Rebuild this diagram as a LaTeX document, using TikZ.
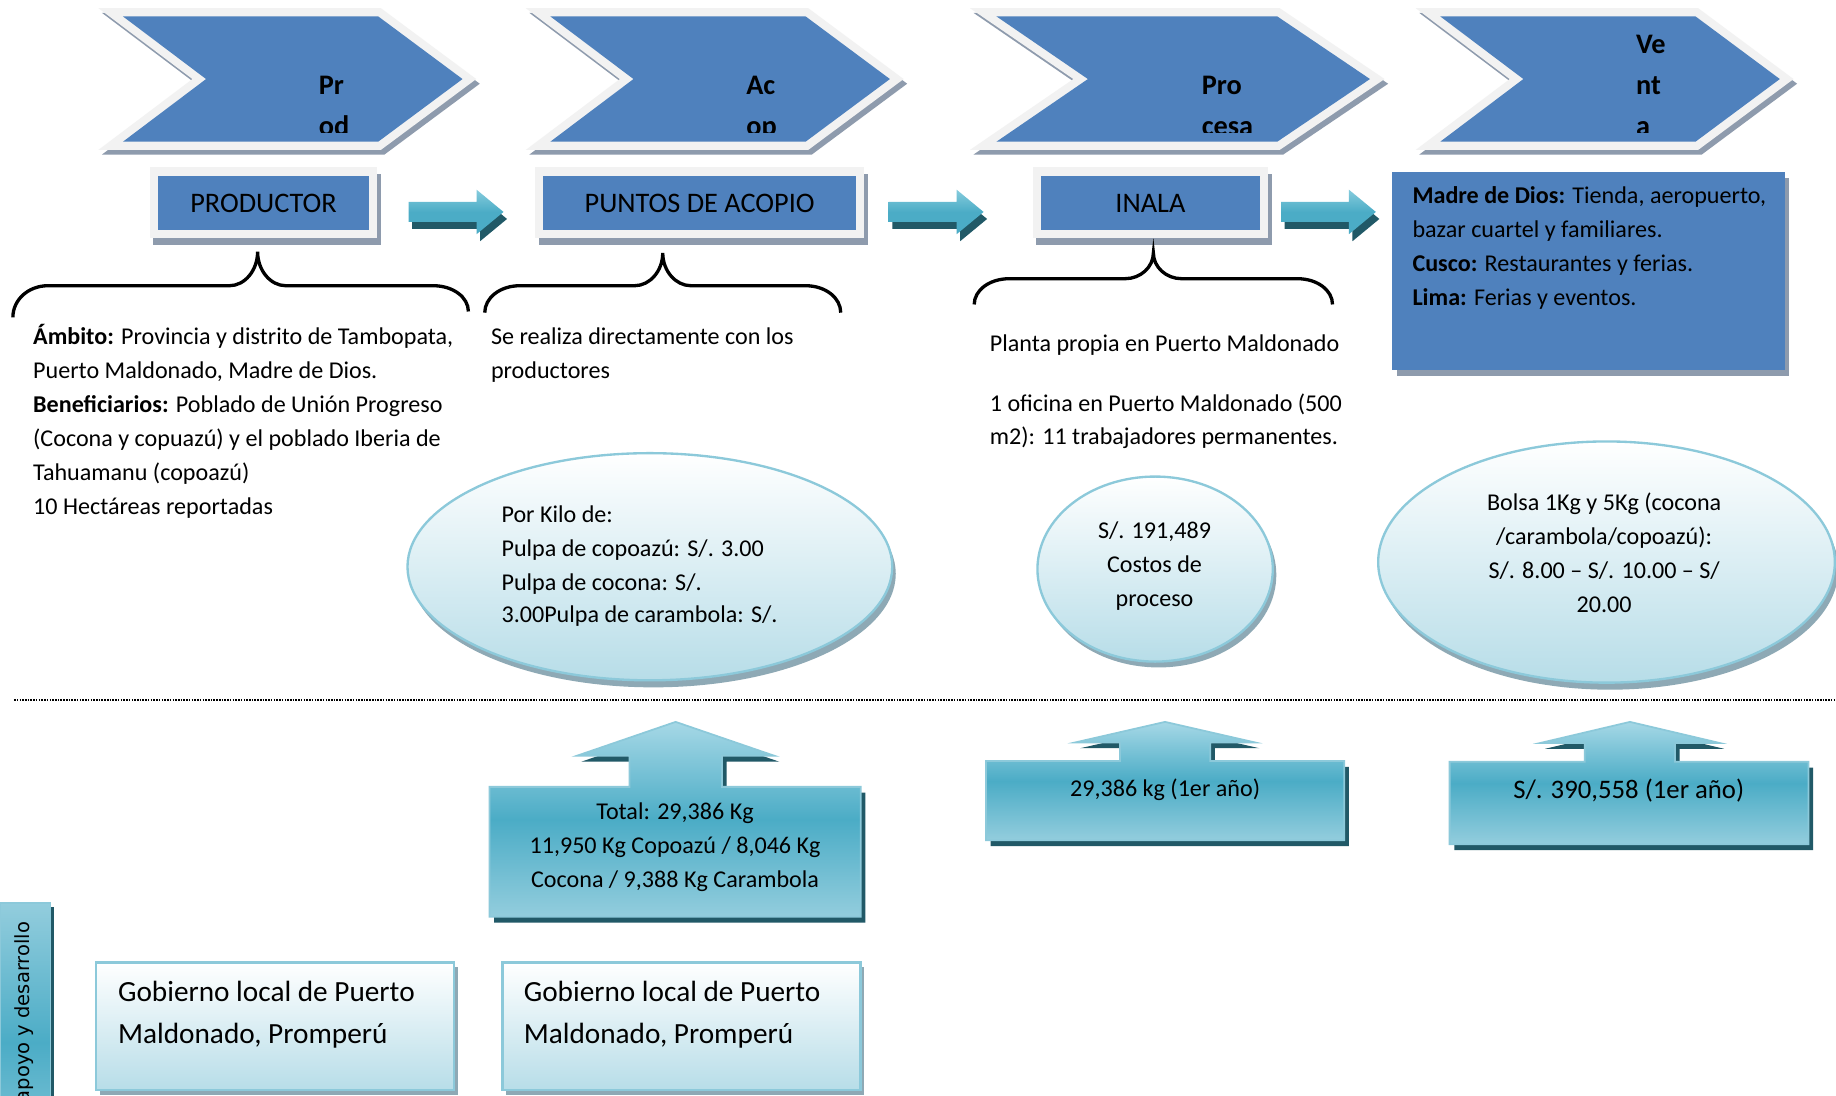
\documentclass[tikz,border=0pt]{standalone}
\usepackage{fontspec}
\setmainfont{Carlito}
\newfontfamily\dejavu{DejaVu Sans}
\newcommand\bodyfont{\fontsize{12.35}{14}\selectfont}
\newcommand\chevfont{\bfseries\fontsize{14.5}{17}\selectfont}
\newcommand\boxfont{\fontsize{14.5}{17}\selectfont}
\newcommand\govfont{\fontsize{15}{18}\selectfont}
\definecolor{blu}{HTML}{4F81BD}
\definecolor{rim}{HTML}{F2F2F2}
\definecolor{shd}{HTML}{8E9BAD}
\definecolor{teal}{HTML}{4BACC6}
\definecolor{teallt}{HTML}{93CDDD}
\definecolor{tealtop}{HTML}{A6D8E6}
\definecolor{tealdk}{HTML}{215967}
\definecolor{pale}{HTML}{B7DDE8}
\definecolor{edge}{HTML}{8CC9DA}
\definecolor{eshd}{HTML}{8EA9B5}
\definecolor{arrtop}{HTML}{86CCDD}
\begin{document}
\begin{tikzpicture}[x=0.6pt,y=-0.6pt,
  chevpath/.style 2 args={insert path={(#1,14) -- (#1+218*#2,14) -- (#1+290*#2,67.5) -- (#1+218*#2,121) -- (#1,121) -- (#1+71*#2,67.5) -- cycle}},
  rarrow/.style={insert path={(#1,172.5) -- (#1+58,172.5) -- (#1+58,162) -- (#1+81,181) -- (#1+58,200) -- (#1+58,189.5) -- (#1,189.5) -- cycle}},
  upco/.style n args={9}{insert path={(#1,#3) -- (#5-#6,#3) -- (#5-#6,#8) -- (#5-#7,#8) -- (#5,#9) -- (#5+#7,#8) -- (#5+#6,#8) -- (#5+#6,#3) -- (#2,#3) -- (#2,#4) -- (#1,#4) -- cycle}},
  bracepath/.style n args={7}{insert path={(#1,#2) .. controls (#1,#2-0.55*#2+0.55*#3) and (#1+13,#3) .. (#1+30,#3) -- (#4-24,#3) .. controls (#4-11,#3) and (#4,#5+0.55*#3-0.55*#5) .. (#4,#5) .. controls (#4,#5+0.55*#3-0.55*#5) and (#4+11,#3) .. (#4+24,#3) -- (#6-30,#3) .. controls (#6-13,#3) and (#6,#7-0.55*#7+0.55*#3) .. (#6,#7)}},
  txt/.style={anchor=base west, inner sep=0pt, font=\bodyfont},
  ctxt/.style={anchor=base, inner sep=0pt, font=\bodyfont},
  chevtxt/.style={anchor=base west, inner sep=0pt, font=\chevfont},
  stagebox/.style={draw=rim, line width=4.2pt, fill=blu, inner sep=0pt, minimum height=31.8pt, font=\boxfont, text height=10.4pt, text depth=0pt},
  bracestyle/.style={draw=black, line width=1.7pt},
  oval/.style={top color=white, bottom color=pale, draw=edge, line width=1.2pt},
  callfill/.style={top color=tealtop, bottom color=teallt, middle color=teal, draw=edge, line width=0.9pt},
  arrfill/.style={top color=arrtop, bottom color=teal, middle color=teal},
  govbox/.style={top color=white, bottom color=pale, draw=edge, line width=1.2pt}
]
\useasboundingbox (0,0) rectangle (1568,936);
\clip (0,0) rectangle (1568,936);
\fill[white] (0,0) rectangle (1568,936);

% stage chevrons
\foreach \L/\s in {105/1,470/1,851/1.1,1230/1}{
  \path[fill=shd, draw=shd, line width=8.4pt, shift={(3,4)}, chevpath={\L}{\s}];
  \path[fill=blu, draw=rim, line width=8.4pt, chevpath={\L}{\s}];
  \path[fill=blu, chevpath={\L}{\s}];
}
\begin{scope}
  \clip (0,14) rectangle (1568,113);
  \node[chevtxt] (c1a) at (272,81) {Pr};
  \node[chevtxt] (c1b) at (272,116) {od};
  \node[chevtxt] (c2a) at (637,81) {Ac};
  \node[chevtxt] (c2b) at (637,116) {op};
  \node[chevtxt] (c3a) at (1026,81) {Pro};
  \node[chevtxt] (c3b) at (1026,116) {cesa};
  \node[chevtxt] (c4a) at (1397,46) {Ve};
  \node[chevtxt] (c4b) at (1397,81) {nt};
  \node[chevtxt] (c4c) at (1397,116) {a};
\end{scope}

% actor boxes
\fill[shd] (131,149) rectangle (325,209);
\node[stagebox, minimum width=112.2pt] (prod) at (225,173) {PRODUCTOR};
\fill[shd] (460,149) rectangle (741,209);
\node[stagebox, minimum width=164.4pt] (acop) at (597.5,173) {PUNTOS DE ACOPIO};
\fill[shd] (885,149) rectangle (1086,209);
\node[stagebox, minimum width=116.4pt] (inala) at (982.5,173) {INALA};

% flow arrows
\foreach \x in {349,759,1094}{
  \path[fill=tealdk, shift={(3,6)}, rarrow=\x];
  \path[arrfill, rarrow=\x];
}

% braces
\path[bracestyle, bracepath={11}{271}{244}{220}{215}{400}{266}];
\path[bracestyle, bracepath={414}{267}{244}{566}{216}{718}{267}];
\path[bracestyle, bracepath={832}{260}{238}{985}{216}{1138}{260}];

% descriptions
\node[txt] (d1) at (28,294) {\textbf{Ámbito:} Provincia y distrito de Tambopata,};
\node[txt] (d2) at (28,323) {Puerto Maldonado, Madre de Dios.};
\node[txt] (d3) at (28,352) {\textbf{Beneficiarios:} Poblado de Unión Progreso};
\node[txt] (d4) at (28,381) {(Cocona y copuazú) y el poblado Iberia de};
\node[txt] (d5) at (28,410) {Tahuamanu (copoazú)};
\node[txt] (d6) at (28,439) {10 Hectáreas reportadas};

\node[txt] (s1) at (419,294) {Se realiza directamente con los};
\node[txt] (s2) at (419,323) {productores};

\node[txt] (p1) at (845,300.5) {Planta propia en Puerto Maldonado};
\node[txt] (p2) at (845,351.5) {1 oficina en Puerto Maldonado (500};
\node[txt] (p3) at (845,380) {m2): 11 trabajadores permanentes.};

% markets box
\fill[shd] (1193,152) rectangle (1528,321);
\fill[blu] (1189,147) rectangle (1524,316);
\node[txt] (m1) at (1206,174) {\textbf{Madre de Dios:} Tienda, aeropuerto,};
\node[txt] (m2) at (1206,203) {bazar cuartel y familiares.};
\node[txt] (m3) at (1206,232) {\textbf{Cusco:} Restaurantes y ferias.};
\node[txt] (m4) at (1206,261) {\textbf{Lima:} Ferias y eventos.};

% price ovals
\fill[eshd] (558,490) ellipse [x radius=124.2pt, y radius=58.2pt];
\path[oval] (555,484) ellipse [x radius=124.2pt, y radius=58.2pt];
\node[txt] (k1) at (428,446) {Por Kilo de:};
\node[txt] (k2) at (428,475) {Pulpa de copoazú: S/. 3.00};
\node[txt] (k3) at (428,504) {Pulpa de cocona: S/.};
\node[txt] (k4) at (428,532) {3.00Pulpa de carambola: S/.};

\fill[eshd] (989.5,491) ellipse [x radius=60.3pt, y radius=47.4pt];
\path[oval] (986.5,486) ellipse [x radius=60.3pt, y radius=47.4pt];
\node[ctxt] (q1) at (986,460) {S/. 191,489};
\node[ctxt] (q2) at (986,489) {Costos de};
\node[ctxt] (q3) at (986,518) {proceso};

\fill[eshd] (1375,486) ellipse [x radius=117pt, y radius=61.8pt];
\path[oval] (1372,480) ellipse [x radius=117pt, y radius=61.8pt];
\node[ctxt] (b1) at (1370,436) {Bolsa 1Kg y 5Kg (cocona};
\node[ctxt] (b2) at (1370,465) {/carambola/copoazú):};
\node[ctxt] (b3) at (1370,494) {S/. 8.00 – S/. 10.00 – S/};
\node[ctxt] (b4) at (1370,523) {20.00};

% separator
\draw[line width=0.8pt, dash pattern=on 0.8pt off 0.6pt, black] (12,598) -- (1568,598);

% volume callouts
\path[fill=tealdk, shift={(4,5)}, upco={418}{735}{672}{783}{577}{39.5}{84.5}{645.5}{616.5}];
\path[callfill, upco={418}{735}{672}{783}{577}{39.5}{84.5}{645.5}{616.5}];
\node[ctxt] (v1) at (576.5,700) {Total: 29,386 Kg};
\node[ctxt] (v2) at (576.5,729) {11,950 Kg Copoazú / 8,046 Kg};
\node[ctxt] (v3) at (576.5,758) {Cocona / 9,388 Kg Carambola};

\path[fill=tealdk, shift={(4,5)}, upco={842}{1148}{650}{717.5}{995}{38.5}{76.5}{634}{616.5}];
\path[callfill, upco={842}{1148}{650}{717.5}{995}{38.5}{76.5}{634}{616.5}];
\node[ctxt] (w1) at (995,680) {29,386 kg (1er año)};

\path[fill=tealdk, shift={(4,5)}, upco={1238}{1544.5}{650.5}{721}{1392}{38.5}{76.5}{634.5}{616.5}];
\path[callfill, upco={1238}{1544.5}{650.5}{721}{1392}{38.5}{76.5}{634.5}{616.5}];
\node[ctxt, font=\fontsize{13.7}{16}\selectfont] (x1) at (1391,682) {S/. 390,558 (1er año)};

% support row
\fill[tealdk] (3,775) rectangle (46,1010);
\path[top color=teallt, bottom color=teallt, middle color=teal, draw=edge, line width=0.8pt] (0,771) rectangle (43,1010);
\node[rotate=90, anchor=base east, inner sep=0pt, font=\dejavu\fontsize{10}{12}\selectfont] (apoyo) at (25.5,787) {apoyo y desarrollo};

\fill[eshd] (85,826) rectangle (391,935);
\path[govbox] (82,822) rectangle (388,931);
\node[txt, font=\govfont] (g1) at (100.5,855.5) {Gobierno local de Puerto};
\node[txt, font=\govfont] (g2) at (100.5,891) {Maldonado, Promperú};

\fill[eshd] (432,826) rectangle (738,935);
\path[govbox] (429,822) rectangle (735,931);
\node[txt, font=\govfont] (h1) at (447,855.5) {Gobierno local de Puerto};
\node[txt, font=\govfont] (h2) at (447,891) {Maldonado, Promperú};
\end{tikzpicture}
\end{document}
